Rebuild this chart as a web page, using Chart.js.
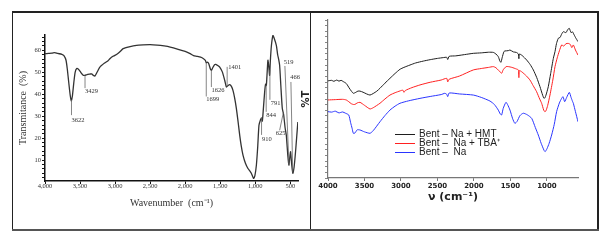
<!DOCTYPE html>
<html>
<head>
<meta charset="utf-8">
<script src="https://cdn.jsdelivr.net/npm/chart.js@4.4.0/dist/chart.umd.min.js"></script>
<style>
body { margin:0; width:610px; height:242px; background:#fff; position:relative; overflow:hidden; }
canvas { position:absolute; }
.ln { position:absolute; background:#222; }
#legend { position:absolute; left:395px; top:129px; font:10px "Liberation Sans", Arial, sans-serif; color:#222; }
#legend div { height:9.2px; line-height:9.2px; white-space:pre; }
#legend span { display:inline-block; width:20px; height:1.4px; vertical-align:middle; margin-right:4px; }
</style>
</head>
<body>
<canvas id="left" width="296" height="216" style="left:13px;top:13px"></canvas>
<canvas id="right" width="301" height="216" style="left:296px;top:13px"></canvas>
<div id="legend"></div>
<!-- table borders -->
<div class="ln" style="left:12px;top:11px;width:587px;height:1.5px"></div>
<div class="ln" style="left:12px;top:11px;width:1px;height:220px"></div>
<div class="ln" style="left:310px;top:11px;width:1px;height:220px"></div>
<div class="ln" style="left:597px;top:11px;width:1.5px;height:220px"></div>
<div class="ln" style="left:12px;top:229px;width:587px;height:2px;background:#555"></div>
<script>
//..........LEFT SPECTRUM..........
const leftWave = [4000, 3950, 3900, 3860, 3820, 3760, 3730, 3700, 3680, 3660, 3640, 3625, 3610, 3590, 3570, 3548,
  3520, 3490, 3460, 3430, 3400, 3360, 3335, 3310, 3288, 3250, 3217, 3150, 3100, 3074, 3030, 3003, 2960, 2920, 2885,
  2800, 2694, 2600, 2500, 2400, 2300, 2214, 2100, 2000, 1929, 1880, 1833, 1780, 1738, 1712, 1699, 1685, 1665, 1640,
  1625, 1605, 1580, 1564, 1530, 1507, 1470, 1436, 1420, 1412, 1395, 1365, 1340, 1318, 1295, 1269, 1245, 1222, 1200,
  1175, 1140, 1104, 1075, 1056, 1035, 1023, 1005, 984, 965, 947, 927, 910, 899, 885, 866, 852, 842, 830, 819, 808,
  795, 785, 770, 748, 730, 699, 680, 665, 652, 635, 614, 595, 575, 557, 535, 520, 508, 496, 480, 463, 445, 425, 410, 392];
const leftT = [58.5, 58.6, 58.7, 59.0, 58.6, 58.2, 57.6, 55.5, 51, 45, 39.5, 37, 39, 45, 50, 51.7,
  51.3, 50, 48.8, 48.6, 49.0, 49.2, 49.3, 48.6, 48.3, 50.5, 52.4, 54.2, 55.3, 56.2, 57.3, 57.7, 58.6, 59.7, 60.8,
  61.6, 62.3, 62.5, 62.6, 62.4, 62.0, 61.5, 60.5, 59.5, 58.5, 57.6, 57.3, 56.9, 56.2, 55.4, 54.3, 54.6, 54.0, 51.5,
  50.9, 52.2, 53.5, 53.6, 53.0, 52.4, 50.2, 46.4, 44.2, 43.3, 43.8, 44.4, 43.6, 41.8, 38.5, 33.5, 27.5, 21.4, 16.5,
  12.3, 8.6, 6.2, 5.0, 4.0, 2.4, 1.7, 3.0, 7.7, 16, 25.9, 28.2, 29.2, 27.8, 33, 41, 44.6, 44, 50, 55.5, 53,
  48.6, 55, 62, 66.8, 65.5, 62.3, 58, 55.8, 53.2, 44, 33.5, 30.8, 25, 21.4, 12, 7.7, 11, 13.8, 8, 4, 7, 13.8, 20, 27.4];
const leftXTicks = [4000, 3500, 3000, 2500, 2000, 1500, 1000, 500];
const leftYTicks = [10, 20, 30, 40, 50, 60];
const peakLabels = ['3622', '3429', '1699', '1626', '1401', '910', '844', '791', '625', '519', '466'];
const peakWaves = [3622, 3429, 1699, 1626, 1401, 910, 844, 791, 625, 519, 466];

//..........RIGHT SPECTRA..........
const seriesNames = ['Bent \u2013 Na + HMT', 'Bent \u2013  Na + TBA\u207A', 'Bent \u2013  Na'];
const seriesColors = ['#1e1e1e', '#ff2020', '#2a35ff'];
const hmtWave = [4000, 3950, 3920, 3880, 3850, 3820, 3790, 3760, 3744, 3710, 3680, 3653, 3620, 3590, 3562, 3520, 3470,
  3425, 3380, 3330, 3288, 3220, 3151, 3080, 3014, 2960, 2877, 2800, 2694, 2600, 2500, 2420, 2374, 2360, 2340, 2250,
  2100, 2009, 1900, 1800, 1735, 1700, 1667, 1645, 1630, 1615, 1590, 1575, 1530, 1507, 1460, 1420, 1392, 1385, 1378,
  1340, 1279, 1230, 1187, 1140, 1096, 1060, 1041, 1025, 1005, 982, 950, 913, 890, 870, 845, 820, 800, 776, 740, 715,
  694, 670, 650, 639, 610, 575];
const hmtT = [61.5, 61.8, 61.2, 62, 61.3, 61.8, 61, 60.2, 59.5, 57, 55, 53.6, 54.2, 55, 55, 54.3, 53.2,
  52.5, 53.5, 55, 56.8, 60, 63.1, 66.2, 68.8, 70, 71.5, 72.8, 74, 74.9, 75.7, 76.2, 76.4, 75.0, 77, 77.3,
  78.3, 78.9, 79.2, 79.6, 79.5, 78.5, 76.8, 74, 73.2, 76, 80, 80.4, 80.6, 81, 79.8, 79.5, 78.5, 75.5, 78.5,
  77.5, 74.7, 71.8, 68.4, 63.5, 57.8, 52.5, 50.4, 51, 53.8, 57.8, 66, 75.7, 80, 85, 88.4, 89, 91, 92.6, 92, 94,
  94.7, 92, 92.5, 91.6, 89, 86.3];
const tbaWave = [4000, 3900, 3800, 3750, 3716, 3680, 3650, 3630, 3600, 3562, 3500, 3425, 3380, 3288, 3220, 3151, 3080,
  3014, 2975, 2960, 2940, 2850, 2740, 2600, 2450, 2374, 2360, 2340, 2200, 2009, 1900, 1800, 1735, 1700, 1660, 1621,
  1600, 1560, 1530, 1480, 1420, 1392, 1385, 1378, 1340, 1280, 1233, 1190, 1142, 1100, 1073, 1045, 1030, 1014, 990,
  959, 920, 890, 860, 830, 799, 770, 740, 708, 680, 660, 639, 610, 575];
const tbaT = [49.4, 49.6, 49.8, 49.4, 48.3, 47, 46.5, 46.6, 47.5, 47.9, 46, 43.7, 44.5, 47.3, 50, 52.5, 54,
  55.1, 55.6, 54.2, 55.4, 57.2, 58.9, 60.6, 62, 63.1, 60.8, 62.5, 64.5, 68.4, 69.3, 70, 70.5, 69.8, 68, 66.3,
  68.5, 70.5, 70.5, 70, 69, 68.4, 63.5, 68, 67, 64.5, 62, 58.5, 54.6, 50, 47.3, 43, 42, 42.5, 46,
  52.5, 62, 70.5, 76, 80.5, 84.2, 83.5, 85, 85.2, 84.5, 82.5, 84.2, 81, 77.8];
const naWave = [4000, 3950, 3900, 3850, 3800, 3760, 3716, 3690, 3670, 3653, 3630, 3600, 3562, 3500, 3425, 3380, 3288,
  3220, 3151, 3080, 3014, 2900, 2740, 2600, 2450, 2400, 2374, 2360, 2340, 2200, 2009, 1900, 1781, 1720, 1667, 1640,
  1621, 1600, 1562, 1540, 1507, 1470, 1440, 1410, 1370, 1324, 1270, 1210, 1160, 1119, 1080, 1040, 1025, 1000, 970,
  936, 900, 868, 830, 799, 780, 758, 730, 694, 670, 650, 639, 610, 575];
const naT = [42, 41.7, 42.3, 41.2, 41.8, 41, 39.9, 35, 31.5, 28.3, 28.5, 30.5, 30.4, 29.2, 28.3, 30, 35.6,
  39.5, 43, 45.5, 47.3, 48.8, 50.4, 51.6, 52.8, 53.6, 53, 51.5, 53.8, 53.2, 52.5, 51, 48.7, 46.5, 43, 40.5,
  39.9, 44, 47.9, 46.5, 43, 37.5, 34.6, 35.8, 39.5, 41, 40, 37.8, 32, 27.2, 22, 17.5, 16.7, 18.5, 22,
  27.2, 34, 42, 47.5, 50.4, 51.5, 48.3, 51, 54.2, 51, 48.5, 47.3, 42, 35.6];
const rightXTicks = [4000, 3500, 3000, 2500, 2000, 1500, 1000];

// where each peak label sits: leader line end and text anchor (wavenumber, %T)
const peakLayout = [
  { end: [3622, 30.5], text: [3622, 28.3] },
  { end: [3429, 42.8], text: [3429, 41.5] },
  { end: [1699, 39.0], text: [1699, 37.7] },
  { end: [1626, 43.3], text: [1626, 42.0] },
  { end: [1401, 52.5], text: [1385, 52.2] },
  { end: [910, 21.5], text: [905, 19.5] },
  { end: [844, 32.0], text: [844, 30.5] },
  { end: [791, 37.5], text: [780, 36.0] },
  { touch: 600, end: [652, 23.6], text: [709, 22.3] },
  { end: [577, 52.9], text: [595, 54.6] },
  { end: [491, 45.6], text: [500, 47.6] }
];

function toPoints(xs, ys) {
  return xs.map((w, i) => ({ x: w, y: ys[i] }));
}

function leftValueAt(w) {
  for (let i = 1; i < leftWave.length; i++) {
    if (leftWave[i] <= w) {
      const f = (leftWave[i - 1] - w) / (leftWave[i - 1] - leftWave[i]);
      return leftT[i - 1] + f * (leftT[i] - leftT[i - 1]);
    }
  }
  return leftT[leftT.length - 1];
}

const peakPlugin = {
  id: 'peaks',
  afterDatasetsDraw(chart) {
    const ctx = chart.ctx, x = chart.scales.x, y = chart.scales.y;
    ctx.save();
    ctx.strokeStyle = '#666';
    ctx.lineWidth = 0.8;
    ctx.fillStyle = '#333';
    ctx.font = '6.5px "Liberation Serif", serif';
    ctx.textBaseline = 'middle';
    ctx.textAlign = 'left';
    peakLabels.forEach((lab, i) => {
      const p = peakLayout[i];
      const tw = p.touch || peakWaves[i];
      ctx.beginPath();
      ctx.moveTo(x.getPixelForValue(tw), y.getPixelForValue(leftValueAt(tw)));
      ctx.lineTo(x.getPixelForValue(p.end[0]), y.getPixelForValue(p.end[1]));
      ctx.stroke();
      ctx.fillText(lab, x.getPixelForValue(p.text[0]), y.getPixelForValue(p.text[1]));
    });
    ctx.restore();
  }
};

const serif = '"Liberation Serif", "Times New Roman", serif';

new Chart(document.getElementById('left'), {
  type: 'line',
  data: {
    datasets: [{
      data: toPoints(leftWave, leftT),
      borderColor: '#333',
      borderWidth: 1.3,
      pointRadius: 0,
      tension: 0.2
    }]
  },
  options: {
    responsive: false,
    animation: false,
    layout: { autoPadding: false, padding: { left: 0, right: 11, top: 22, bottom: 16 } },
    plugins: { legend: { display: false }, tooltip: { enabled: false } },
    scales: {
      x: {
        type: 'linear', reverse: true, min: 390, max: 4000,
        afterBuildTicks: s => { s.ticks = leftXTicks.map(v => ({ value: v })); },
        afterFit: s => { s.height = 32; },
        grid: { drawOnChartArea: false, tickLength: 3, color: '#111' },
        border: { color: '#111', width: 1.5 },
        ticks: { autoSkip: false, maxRotation: 0, padding: -2, color: '#333', font: { family: serif, size: 6.5 },
          callback: v => v.toLocaleString('en-US') },
        title: { display: true, text: 'Wavenumber  (cm\u207B\u00B9)', color: '#333', font: { family: serif, size: 10 } }
      },
      y: {
        min: 0.5, max: 67,
        afterBuildTicks: s => {
          const t = [];
          for (let v = 2; v <= 66; v += 2) t.push({ value: v });
          s.ticks = t;
        },
        afterFit: s => { s.width = 32; },
        grid: { drawOnChartArea: false, tickLength: 3, color: '#111' },
        border: { color: '#111', width: 1.5 },
        ticks: { autoSkip: false, padding: 1, color: '#333', font: { family: serif, size: 6.5 },
          callback: v => leftYTicks.includes(v) ? String(v) : '' },
        title: { display: true, text: 'Transmitance  (%)', color: '#333', font: { family: serif, size: 10 } }
      }
    }
  },
  plugins: [peakPlugin]
});

const rightChart = new Chart(document.getElementById('right'), {
  type: 'line',
  data: {
    datasets: [
      { label: seriesNames[0], data: toPoints(hmtWave, hmtT) },
      { label: seriesNames[1], data: toPoints(tbaWave, tbaT) },
      { label: seriesNames[2], data: toPoints(naWave, naT) }
    ].map((d, i) => Object.assign(d, { borderColor: seriesColors[i], borderWidth: 1, pointRadius: 0, tension: 0.2 }))
  },
  options: {
    responsive: false,
    animation: false,
    layout: { autoPadding: false, padding: { left: 0, right: 19, top: 7, bottom: 21 } },
    plugins: { legend: { display: false }, tooltip: { enabled: false } },
    scales: {
      x: {
        type: 'linear', reverse: true, min: 575, max: 4000,
        afterBuildTicks: s => { s.ticks = rightXTicks.map(v => ({ value: v })); },
        afterFit: s => { s.height = 30; },
        grid: { drawOnChartArea: false, tickLength: 3, color: '#777' },
        border: { color: '#777', width: 1.2 },
        ticks: { autoSkip: false, maxRotation: 0, padding: 1, color: '#222',
          font: { family: '"DejaVu Sans", Verdana, sans-serif', size: 7, weight: 'bold' },
          callback: v => String(v) },
        title: { display: true, text: '\u03BD (cm\u207B\u00B9)', color: '#222',
          font: { family: '"DejaVu Sans", Verdana, sans-serif', size: 11, weight: 'bold' } }
      },
      y: {
        min: 0, max: 100,
        afterBuildTicks: s => {
          const t = [];
          for (let i = 0; i <= 28; i++) t.push({ value: i * 100 / 28 });
          s.ticks = t;
        },
        afterFit: s => { s.width = 32; },
        grid: { drawOnChartArea: false, tickLength: 3, color: '#888' },
        border: { color: '#777', width: 1.2 },
        ticks: { display: false },
        title: { display: true, text: '%T', color: '#222',
          font: { family: '"DejaVu Sans", Verdana, sans-serif', size: 10, weight: 'bold' } }
      }
    }
  }
});

// legend inside the plot
const legend = document.getElementById('legend');
rightChart.data.datasets.forEach(ds => {
  const row = document.createElement('div');
  const sw = document.createElement('span');
  sw.style.background = ds.borderColor;
  row.appendChild(sw);
  row.appendChild(document.createTextNode(ds.label));
  legend.appendChild(row);
});
</script>
</body>
</html>
